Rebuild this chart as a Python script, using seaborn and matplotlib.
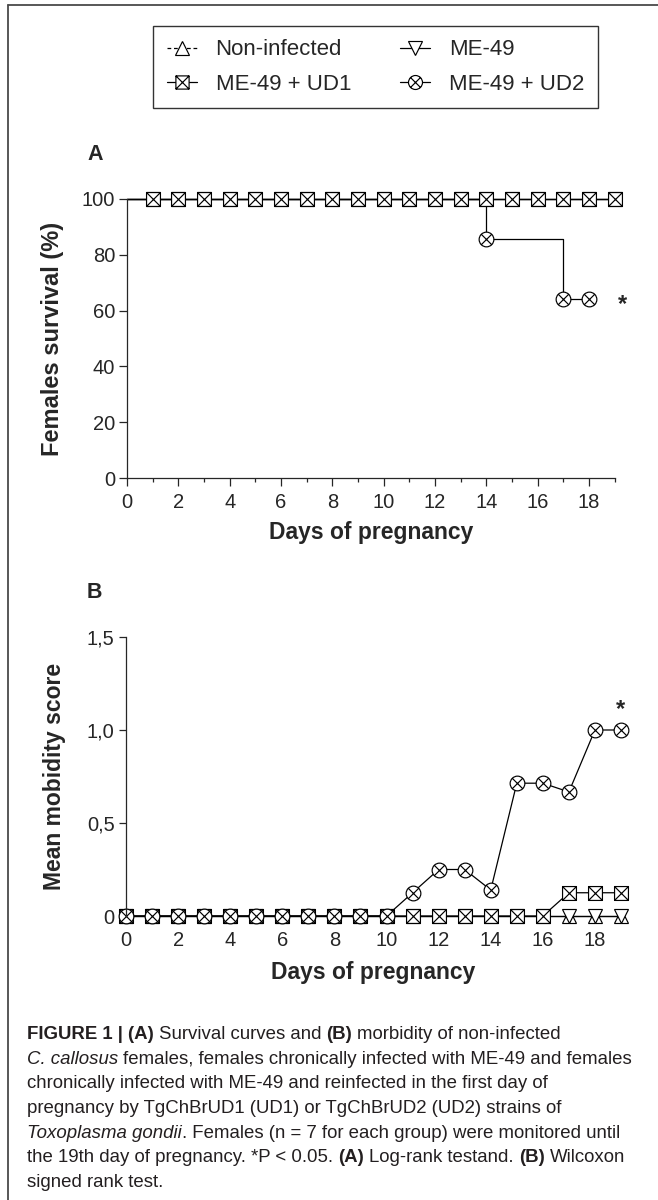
import numpy as np
import pandas as pd
import matplotlib
matplotlib.use("Agg")
import matplotlib.pyplot as plt
import seaborn as sns
from matplotlib.path import Path
from matplotlib.lines import Line2D

# ---------------- data ----------------
groups = ["Non-infected", "ME-49", "ME-49 + UD1", "ME-49 + UD2"]

# Panel A: survival (%)
surv_days = [0, 1, 2, 3, 4, 5, 6, 7, 8, 9, 10, 11, 12, 13, 14, 15, 16, 17, 18, 19]
surv_noninf = [100, 100, 100, 100, 100, 100, 100, 100, 100, 100, 100, 100, 100, 100, 100, 100, 100, 100, 100, 100]
surv_me49 = [100, 100, 100, 100, 100, 100, 100, 100, 100, 100, 100, 100, 100, 100, 100, 100, 100, 100, 100, 100]
surv_ud1 = [100, 100, 100, 100, 100, 100, 100, 100, 100, 100, 100, 100, 100, 100, 100, 100, 100, 100, 100, 100]
surv_ud2_days = [0, 1, 2, 3, 4, 5, 6, 7, 8, 9, 10, 11, 12, 13, 14, 15, 16, 17, 18]
surv_ud2 = [100, 100, 100, 100, 100, 100, 100, 100, 100, 100, 100, 100, 100, 100, 85.7, 85.7, 85.7, 64.3, 64.3]
surv_marker_days = [1, 2, 3, 4, 5, 6, 7, 8, 9, 10, 11, 12, 13, 14, 15, 16, 17, 18, 19]
surv_ud2_event_days = [14, 17, 18]

# Panel B: mean mobidity score
mob_days = [0, 1, 2, 3, 4, 5, 6, 7, 8, 9, 10, 11, 12, 13, 14, 15, 16, 17, 18, 19]
mob_noninf = [0, 0, 0, 0, 0, 0, 0, 0, 0, 0, 0, 0, 0, 0, 0, 0, 0, 0, 0, 0]
mob_me49 = [0, 0, 0, 0, 0, 0, 0, 0, 0, 0, 0, 0, 0, 0, 0, 0, 0, 0, 0, 0]
mob_ud1 = [0, 0, 0, 0, 0, 0, 0, 0, 0, 0, 0, 0, 0, 0, 0, 0, 0, 0.125, 0.125, 0.125]
mob_ud2 = [0, 0, 0, 0, 0, 0, 0, 0, 0, 0, 0, 0.125, 0.25, 0.25, 0.14, 0.714, 0.714, 0.667, 1.0, 1.0]

a_xticks = [0, 2, 4, 6, 8, 10, 12, 14, 16, 18]
a_yticks = [0, 20, 40, 60, 80, 100]
b_yticks = [0, 0.5, 1.0, 1.5]
b_yticklabels = ["0", "0,5", "1,0", "1,5"]

# ---------------- style ----------------
sns.set_style("ticks")
plt.rcParams["font.family"] = ["Liberation Sans", "DejaVu Sans"]

W, H = 658, 1200
fig = plt.figure(figsize=(W / 100, H / 100), dpi=100)

def fx(px):
    return px / W

def fy(py):
    return 1 - py / H

# custom markers
box_x = Path([(-1, -1), (1, -1), (1, 1), (-1, 1), (-1, -1),
              (-1, -1), (1, 1), (-1, 1), (1, -1)],
             [Path.MOVETO, Path.LINETO, Path.LINETO, Path.LINETO, Path.CLOSEPOLY,
              Path.MOVETO, Path.LINETO, Path.MOVETO, Path.LINETO])
d = np.sqrt(0.5)
xcross = Path([(-d, -d), (d, d), (-d, d), (d, -d)],
              [Path.MOVETO, Path.LINETO, Path.MOVETO, Path.LINETO])
circ_x = Path.make_compound_path(Path.unit_circle(), xcross)

marker_of = {"Non-infected": "^", "ME-49": "v", "ME-49 + UD1": box_x, "ME-49 + UD2": circ_x}
msize_of = {"Non-infected": 10.2, "ME-49": 10.2, "ME-49 + UD1": 10.0, "ME-49 + UD2": 10.6}
LW = 0.9
MEW = 0.85

# ---------------- Panel A ----------------
axA = fig.add_axes([fx(127), fy(478), (614.7 - 127) / W, 279 / H])
lineA = {
    "ME-49 + UD2": (surv_ud2_days, surv_ud2, surv_ud2_event_days),
    "Non-infected": (surv_days, surv_noninf, surv_marker_days),
    "ME-49": (surv_days, surv_me49, surv_marker_days),
    "ME-49 + UD1": (surv_days, surv_ud1, surv_marker_days),
}
for g, (xs, ys, mdays) in lineA.items():
    df = pd.DataFrame({"day": xs, "value": ys})
    sns.lineplot(data=df, x="day", y="value", ax=axA, color="black", lw=LW,
                 drawstyle="steps-post", clip_on=False, errorbar=None)
    dm = df[df["day"].isin(mdays)]
    sns.lineplot(data=dm, x="day", y="value", ax=axA, color="black", lw=0,
                 linestyle="", marker=marker_of[g], markersize=msize_of[g],
                 markerfacecolor="white", markeredgecolor="black",
                 markeredgewidth=MEW, clip_on=False, errorbar=None)

axA.set_xlim(0, 19)
axA.set_ylim(0, 100)
axA.set_xticks(a_xticks)
axA.set_xticks([1, 3, 5, 7, 9, 11, 13, 15, 17, 19], minor=True)
axA.set_yticks(a_yticks)
for s in ["top", "right"]:
    axA.spines[s].set_visible(False)
for s in ["left", "bottom"]:
    axA.spines[s].set_linewidth(0.9)
axA.tick_params(axis="x", which="major", length=5.8, width=0.9, pad=5, labelsize=14.5)
axA.tick_params(axis="x", which="minor", length=3.0, width=0.9)
axA.tick_params(axis="y", length=5.5, width=0.9, pad=3, labelsize=14.5)
axA.set_xlabel("Days of pregnancy", fontsize=16.5, fontweight="bold")
axA.set_ylabel("Females survival (%)", fontsize=17, fontweight="bold")
axA.xaxis.set_label_coords(0.5, (478 - 533) / 279)
axA.xaxis.label.set_va("center")
axA.yaxis.set_label_coords((52 - 127) / 487.7, 0.5)
axA.yaxis.label.set_va("center")
axA.annotate("*", xy=(19.3, 64.5), xytext=(0, -9), textcoords="offset points",
             ha="center", va="baseline", fontsize=17, fontweight="bold",
             annotation_clip=False)

# ---------------- Panel B ----------------
axB = fig.add_axes([fx(126), fy(916), (621 - 126) / W, 279 / H])
lineB = {
    "Non-infected": mob_noninf,
    "ME-49": mob_me49,
    "ME-49 + UD1": mob_ud1,
    "ME-49 + UD2": mob_ud2,
}
for g, ys in lineB.items():
    df = pd.DataFrame({"day": mob_days, "value": ys})
    sns.lineplot(data=df, x="day", y="value", ax=axB, color="black", lw=LW,
                 marker=marker_of[g], markersize=msize_of[g],
                 markerfacecolor="white", markeredgecolor="black",
                 markeredgewidth=MEW, clip_on=False, errorbar=None)

axB.set_xlim(0, 19)
axB.set_ylim(0, 1.5)
axB.set_xticks(a_xticks)
axB.set_yticks(b_yticks)
axB.set_yticklabels(b_yticklabels)
for s in ["top", "right", "bottom"]:
    axB.spines[s].set_visible(False)
axB.spines["left"].set_linewidth(0.9)
axB.tick_params(axis="x", length=0, pad=11, labelsize=14.5)
axB.tick_params(axis="y", length=5.2, width=0.9, pad=3, labelsize=14.5)
axB.set_xlabel("Days of pregnancy", fontsize=16.5, fontweight="bold")
axB.set_ylabel("Mean mobidity score", fontsize=16.5, fontweight="bold")
axB.xaxis.set_label_coords(0.5, (916 - 972) / 279)
axB.xaxis.label.set_va("center")
axB.yaxis.set_label_coords((55 - 126) / 495, 0.5)
axB.yaxis.label.set_va("center")
axB.annotate("*", xy=(19, 1.145), xytext=(0, -9), textcoords="offset points",
             ha="center", va="baseline", fontsize=17, fontweight="bold",
             annotation_clip=False)

# panel letters
fig.text(fx(95), fy(155), "A", fontsize=15.5, fontweight="bold", ha="center", va="center")
fig.text(fx(94), fy(592), "B", fontsize=15.5, fontweight="bold", ha="center", va="center")

# ---------------- legend ----------------
handles = []
for g in groups:
    ls = (0, (3.0, 2.2)) if g == "Non-infected" else "-"
    handles.append(Line2D([], [], color="black", lw=LW, linestyle=ls,
                          marker=marker_of[g], markersize=msize_of[g] * 0.95,
                          markerfacecolor="white", markeredgecolor="black",
                          markeredgewidth=MEW))
order = [0, 2, 1, 3]
leg = fig.legend([handles[i] for i in order], [groups[i] for i in order],
                 ncol=2, loc="center", bbox_to_anchor=(fx(375.5), fy(67)),
                 fontsize=16, frameon=True, fancybox=False, edgecolor="black",
                 handlelength=1.35, handletextpad=0.85, columnspacing=2.2,
                 labelspacing=0.6, borderpad=0.6, borderaxespad=0)
leg.get_frame().set_linewidth(1.0)

# ---------------- frame lines ----------------
fig.add_artist(Line2D([fx(8), fx(8)], [0, fy(5)], transform=fig.transFigure,
                      color="#4a4a4a", lw=1.3))
fig.add_artist(Line2D([fx(8), 1], [fy(5), fy(5)], transform=fig.transFigure,
                      color="#4a4a4a", lw=1.3))

# ---------------- caption ----------------
cap_family = ["Liberation Sans", "DejaVu Sans"]
cap_color = "#231f20"
caption = [
    [("FIGURE 1 | (A)", "b"), (" Survival curves and ", "n"), ("(B)", "b"), (" morbidity of non-infected", "n")],
    [("C. callosus", "i"), (" females, females chronically infected with ME-49 and females", "n")],
    [("chronically infected with ME-49 and reinfected in the first day of", "n")],
    [("pregnancy by TgChBrUD1 (UD1) or TgChBrUD2 (UD2) strains of", "n")],
    [("Toxoplasma gondii", "i"), (". Females (n = 7 for each group) were monitored until", "n")],
    [("the 19th day of pregnancy. *P < 0.05. ", "n"), ("(A)", "b"), (" Log-rank testand. ", "n"), ("(B)", "b"), (" Wilcoxon", "n")],
    [("signed rank test.", "n")],
]
renderer = fig.canvas.get_renderer()

def style_kw(st):
    return {"fontweight": "bold" if st == "b" else "normal",
            "fontstyle": "italic" if st == "i" else "normal"}

def tw(s, st, size):
    if not s:
        return 0.0
    t = fig.text(0, 0, s, fontsize=size, family=cap_family, **style_kw(st))
    w = t.get_window_extent(renderer).width
    t.remove()
    return w

def space_w(st, size):
    return tw("a a", st, size) - tw("aa", st, size)

def run_layout(run, size):
    s, st = run
    core = s.strip()
    lead = len(s) - len(s.lstrip())
    trail = len(s) - len(s.rstrip())
    sp = space_w(st, size)
    return lead * sp, tw(core, st, size), trail * sp, core

def line_width(line, size):
    tot = 0
    for r in line:
        a, b, c, _ = run_layout(r, size)
        tot += a + b + c
    return tot

base = 12.0
cap_size = base * 605.0 / line_width(caption[1], base)

x0 = 27
for k, line in enumerate(caption):
    ybase = 1033 + 6 + 24.7 * k
    x = x0
    for r in line:
        lead, wcore, trail, core = run_layout(r, cap_size)
        x += lead
        fig.text(fx(x), fy(ybase), core, fontsize=cap_size, family=cap_family,
                 color=cap_color, ha="left", va="baseline", **style_kw(r[1]))
        x += wcore + trail

fig.savefig("out.png", dpi=100)
